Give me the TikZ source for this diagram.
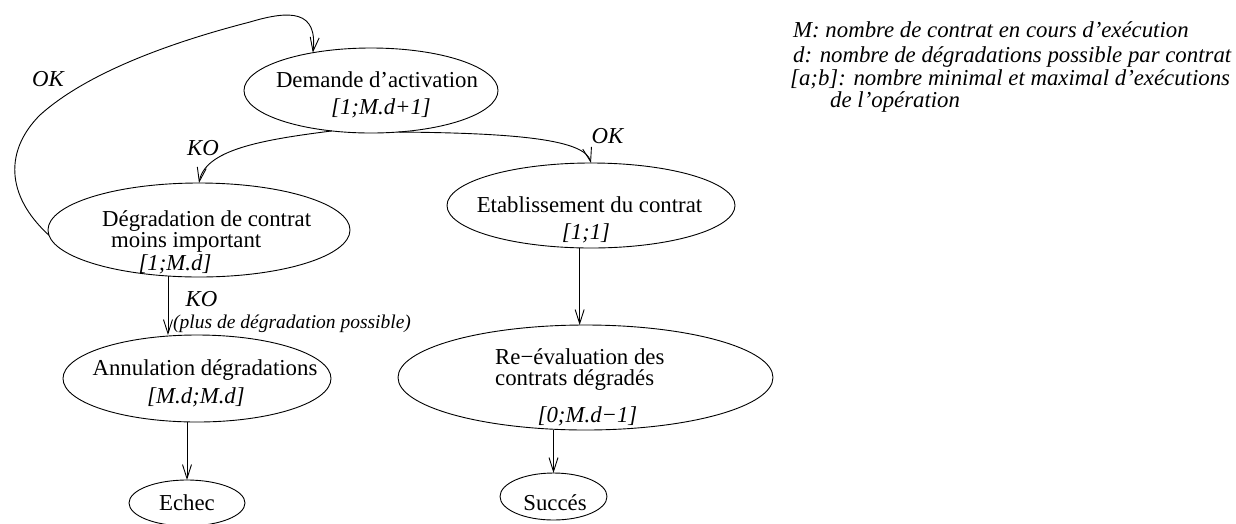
\documentclass[tikz,border=0pt]{standalone}
\usepackage{fontspec}
\setmainfont{Liberation Serif}
\usetikzlibrary{arrows.meta, shapes.geometric}

\begin{document}
\begin{tikzpicture}[
    x=1pt, y=-1pt,
    oval/.style={
        draw,
        line width=0.9pt,
        ellipse,
        inner sep=0pt,
        outer sep=0pt
    },
    txt/.style={
        anchor=base,
        inner sep=0pt,
        font=\fontsize{22.8pt}{27pt}\selectfont
    },
    lbl/.style={
        txt,
        font=\fontsize{22.8pt}{27pt}\selectfont\itshape
    },
    arrow/.style={
        -{Straight Barb[length=14pt, width=9pt]},
        line width=0.9pt
    }
]
\useasboundingbox (0,0) rectangle (1236,523);

% Ellipses (placed like the figure)
\node[oval, minimum width=254pt, minimum height=85pt] (dem) at (371,90.5) {};
\node[oval, minimum width=288pt, minimum height=85pt] (etab) at (591,205.5) {};
\node[oval, minimum width=302pt, minimum height=94pt] (deg) at (199,230) {};
\node[oval, minimum width=375pt, minimum height=105pt] (reev) at (585.5,377.5) {};
\node[oval, minimum width=268pt, minimum height=87pt] (annul) at (197,378.5) {};
\node[oval, minimum width=116pt, minimum height=46pt] (echec) at (187,503) {};
\node[oval, minimum width=107pt, minimum height=47pt] (succ) at (553.5,496.5) {};

% Texts of the ellipses
\node[txt] (demA) at (377,87) {Demande d'activation};
\node[lbl] (demB) at (381,114) {[1;M.d+1]};
\node[txt] (etabA) at (589.5,212) {Etablissement du contrat};
\node[lbl] (etabB) at (586,239) {[1;1]};
\node[txt, anchor=base west] (degA) at (102,226) {Dégradation de contrat};
\node[txt, anchor=base west] (degB) at (111,247) {moins important};
\node[lbl] (degC) at (175,270) {[1;M.d]};
\node[txt, anchor=base west] (reevA) at (495,364) {Re−évaluation des};
\node[txt, anchor=base west] (reevB) at (495,385) {contrats dégradés};
\node[lbl] (reevC) at (587.5,422) {[0;M.d−1]};
\node[txt] (annulA) at (205,375) {Annulation dégradations};
\node[lbl] (annulB) at (196,403) {[M.d;M.d]};
\node[txt] (echecA) at (187,510) {Echec};
\node[txt] (succA) at (555,510) {Succés};

% Transitions
\draw[arrow] (deg.182) .. controls (5,195) and (5,150) .. (40,115)
    .. controls (90,70) and (180,40) .. (250,22)
    .. controls (290,10) and (318,10) .. (dem.147);
\draw[arrow] (dem.226) .. controls (260,140) and (205,150) .. (deg.north);
\draw[arrow] (dem.303) .. controls (520,133) and (585,140) .. (etab.north);
\draw[arrow] (etab.255) -- (etab.255 |- reev.north);
\draw[arrow] (succ.north |- reev.south) -- (succ.north);
\draw[arrow] (deg.236) -- (deg.236 |- annul.north);
\draw[arrow] (echec.north |- annul.south) -- (echec.north);

% Labels
\node[lbl] (okA) at (48,86) {OK};
\node[lbl] (koA) at (203,155) {KO};
\node[lbl] (okB) at (607.5,143) {OK};
\node[lbl] (koB) at (201.5,306) {KO};
\node[lbl, anchor=base west, font=\fontsize{19.5pt}{22pt}\selectfont\itshape] (koNote) at (173,328) {(plus de dégradation possible)};

% Legend
\node[lbl, anchor=base west] (legM) at (793,37) {M: nombre de contrat en cours d'exécution};
\node[lbl, anchor=base west] (legD) at (793,62) {d: nombre de dégradations possible par contrat};
\node[lbl, anchor=base west] (legAB) at (790,85) {[a;b]: nombre minimal et maximal d'exécutions};
\node[lbl, anchor=base west] (legAB2) at (830,107) {de l'opération};

\end{tikzpicture}
\end{document}
